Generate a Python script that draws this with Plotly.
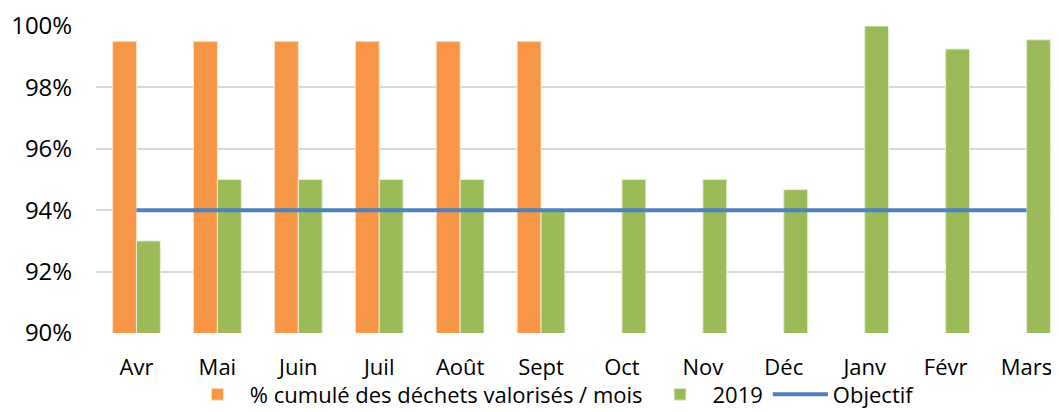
import plotly.graph_objects as go

months = ["Avr", "Mai", "Juin", "Juil", "Août", "Sept", "Oct", "Nov", "Déc", "Janv", "Févr", "Mars"]
cumul = [99.5, 99.5, 99.5, 99.5, 99.5, 99.5, None, None, None, None, None, None]
y2019 = [93.0, 95.0, 95.0, 95.0, 95.0, 94.0, 95.0, 95.0, 94.67, 100.0, 99.25, 99.55]
objectif = [94.0] * 12
yticks = [90, 92, 94, 96, 98, 100]

FONT = "Open Sans, Liberation Sans, sans-serif"

fig = go.Figure()
fig.add_trace(go.Bar(x=months, y=cumul, name="% cumulé des déchets valorisés / mois",
                     marker=dict(color="#f79646", line=dict(color="#fbe0cc", width=1))))
fig.add_trace(go.Bar(x=months, y=y2019, name="2019",
                     marker=dict(color="#9bbb59", line=dict(color="#e4eed6", width=1))))
fig.add_trace(go.Scatter(x=months, y=objectif, name="Objectif", mode="lines",
                         line=dict(color="#4f81bd", width=4)))

fig.update_layout(
    width=1059, height=412,
    margin=dict(l=88, r=0, t=18, b=87, autoexpand=False),
    paper_bgcolor="white", plot_bgcolor="white",
    barmode="group", bargap=0.41, bargroupgap=0,
    font=dict(family=FONT, size=22, color="#000000"),
    showlegend=True,
    legend=dict(orientation="h", x=0.47, xanchor="center", y=-0.2, yanchor="middle",
                font=dict(size=22), traceorder="normal", itemwidth=55,
                bgcolor="rgba(0,0,0,0)", borderwidth=0),
    xaxis=dict(showgrid=False, showline=False, ticks="outside", ticklen=15,
               tickcolor="rgba(0,0,0,0)", tickfont=dict(size=22), automargin=False),
    yaxis=dict(range=[90, 100], tickvals=yticks, ticktext=[f"{v}%" for v in yticks],
               showgrid=True, gridcolor="#d9d9d9", gridwidth=1.5, zeroline=False,
               showline=False, ticks="outside", ticklen=18, tickcolor="rgba(0,0,0,0)",
               tickfont=dict(size=24), automargin=False),
)
fig.write_html("out.html")
